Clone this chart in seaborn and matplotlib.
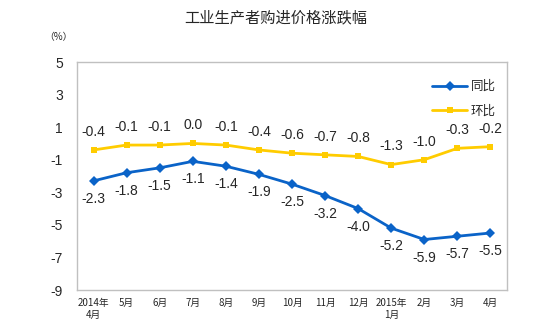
import matplotlib
matplotlib.use("Agg")
import matplotlib.pyplot as plt
import seaborn as sns
import pandas as pd
import numpy as np

months = ["2014年\n4月", "5月", "6月", "7月", "8月", "9月", "10月", "11月", "12月",
          "2015年\n1月", "2月", "3月", "4月"]
yoy = [-2.3, -1.8, -1.5, -1.1, -1.4, -1.9, -2.5, -3.2, -4.0, -5.2, -5.9, -5.7, -5.5]
mom = [-0.4, -0.1, -0.1, 0.0, -0.1, -0.4, -0.6, -0.7, -0.8, -1.3, -1.0, -0.3, -0.2]
series_names = ["同比", "环比"]
y_ticks = [5, 3, 1, -1, -3, -5, -7, -9]

sns.set_style("white")
plt.rcParams['font.family'] = ['Noto Sans CJK SC', 'DejaVu Sans']

df = pd.DataFrame({
    "x": list(range(len(months))) * 2,
    "value": yoy + mom,
    "series": [series_names[0]] * len(yoy) + [series_names[1]] * len(mom),
})

fig = plt.figure(figsize=(5.51, 3.24), dpi=100)
ax = fig.add_axes([77/551, 1 - 290/324, 430/551, 228/324])

palette = {"同比": "#0a63c8", "环比": "#ffcc00"}
sns.lineplot(data=df, x="x", y="value", hue="series", style="series",
             markers={"同比": "D", "环比": "s"}, dashes=False, palette=palette,
             markersize=5, linewidth=2, markeredgewidth=0, ax=ax)

num_font = ['Liberation Sans', 'DejaVu Sans']
for i, v in enumerate(yoy):
    ax.annotate(f"{v:.1f}", (i, v), xytext=(0, -8), textcoords="offset points",
                ha="center", va="top", fontsize=10, family=num_font)
for i, v in enumerate(mom):
    ax.annotate(f"{v:.1f}", (i, v), xytext=(0, 8), textcoords="offset points",
                ha="center", va="bottom", fontsize=10, family=num_font)

ax.set_xlim(-0.5, len(months) - 0.5)
ax.set_ylim(-9, 5)
ax.set_yticks(y_ticks)
ax.set_yticklabels([str(t) for t in y_ticks], fontsize=10, family=num_font)
ax.set_xticks(np.arange(-0.5, len(months) + 0.5, 1), minor=False)
ax.set_xticklabels([])
ax.set_xticks(range(len(months)), minor=True)
ax.set_xticklabels(months, minor=True, fontsize=7)
ax.tick_params(axis="x", which="minor", length=0, pad=6)
ax.tick_params(axis="x", which="major", direction="in", length=4, color="#c0c0c0")
ax.tick_params(axis="y", direction="in", length=4, color="#c0c0c0", pad=10)
for lab in ax.get_xticklabels(minor=True):
    lab.set_verticalalignment("top")
    lab.set_linespacing(1.2)
ax.set_xlabel("")
ax.set_ylabel("")
for s in ax.spines.values():
    s.set_color("#c0c0c0")
    s.set_linewidth(1)

leg = ax.legend(loc="upper right", bbox_to_anchor=(1.0, 0.97), frameon=False,
                fontsize=9, handlelength=2.8, labelspacing=0.9, borderaxespad=0.5,
                handletextpad=0.3)

fig.text(0.5, 1 - 18/324, "工业生产者购进价格涨跌幅", ha="center", va="center", fontsize=11)
fig.text(58/551, 1 - 37/324, "（%）", ha="center", va="center", fontsize=7)

fig.savefig("out.png", dpi=100, facecolor="white")
